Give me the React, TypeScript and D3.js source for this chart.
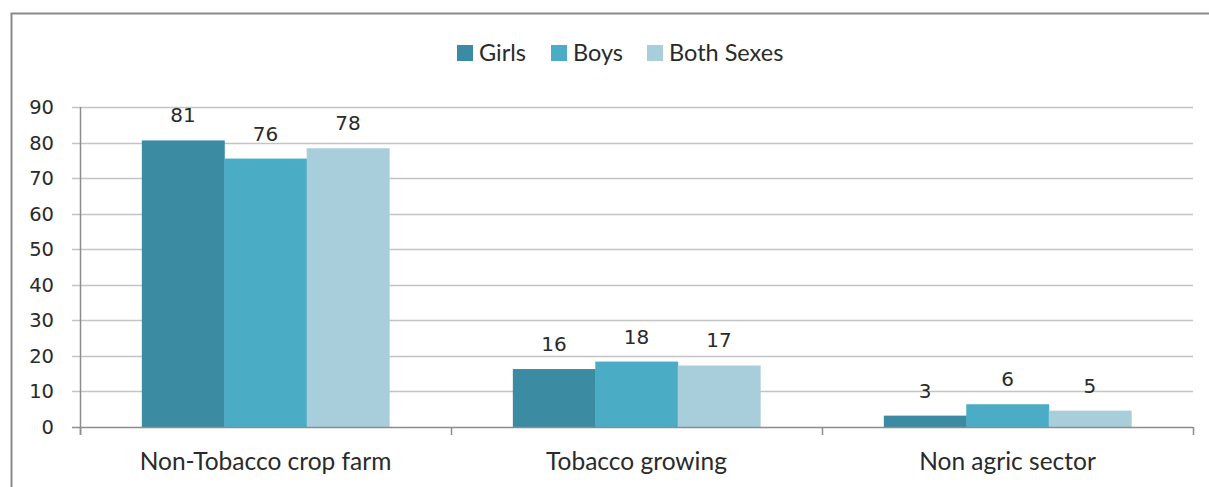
import React, { useEffect, useRef } from 'react';
import * as d3 from 'd3';

const categories = ["Non-Tobacco crop farm", "Tobacco growing", "Non agric sector"];
const seriesNames = ["Girls", "Boys", "Both Sexes"];
const girls = [80.6, 16.3, 3.2];
const boys = [75.5, 18.4, 6.4];
const both = [78.4, 17.3, 4.6];
const yTicks = [0, 10, 20, 30, 40, 50, 60, 70, 80, 90];
const colors = ["#3B8CA2", "#4BACC6", "#A8CEDC"];

const App = () => {
    const ref = useRef<SVGSVGElement>(null);

    useEffect(() => {
        const svg = d3.select(ref.current);
        svg.selectAll("*").remove();

        const left = 80, right = 1193, top = 107, bottom = 427;
        const numFont = "DejaVu Sans, sans-serif";
        const txtFont = "Lato, sans-serif";
        const ink = "#2a2a2a";

        // frame
        svg.append("path")
            .attr("d", "M11.5,500 L11.5,13.5 L1220,13.5")
            .attr("fill", "none")
            .attr("stroke", "#8a8a8a")
            .attr("stroke-width", 2);

        const x0 = d3.scaleBand().domain(categories).range([left, right]).paddingInner(0).paddingOuter(0);
        const x1 = d3.scaleBand().domain(seriesNames).range([0, x0.bandwidth()]).paddingOuter(0.75).paddingInner(0);
        const y = d3.scaleLinear().domain([0, 90]).range([bottom, top]);

        // gridlines
        svg.append("g")
            .selectAll("line")
            .data(yTicks.filter(d => d > 0))
            .enter()
            .append("line")
            .attr("x1", left - 8)
            .attr("x2", right)
            .attr("y1", d => Math.round(y(d)) + 0.5)
            .attr("y2", d => Math.round(y(d)) + 0.5)
            .attr("stroke", "#c4c4c4")
            .attr("stroke-width", 1.5);

        // y labels
        svg.append("g")
            .selectAll("text")
            .data(yTicks)
            .enter()
            .append("text")
            .attr("x", 54)
            .attr("y", d => y(d))
            .attr("dy", "0.36em")
            .attr("text-anchor", "end")
            .attr("font-family", numFont)
            .attr("font-size", 19.5)
            .attr("fill", ink)
            .text(d => d);

        const data = [girls, boys, both];

        const groups = svg.append("g")
            .selectAll("g")
            .data(categories)
            .enter()
            .append("g")
            .attr("transform", c => `translate(${x0(c)},0)`);

        groups.selectAll("rect")
            .data((c, i) => seriesNames.map((s, j) => ({ s, v: data[j][i], j })))
            .enter()
            .append("rect")
            .attr("x", d => x1(d.s)!)
            .attr("width", x1.bandwidth() + 0.5)
            .attr("y", d => y(d.v))
            .attr("height", d => bottom - y(d.v))
            .attr("fill", d => colors[d.j]);

        groups.selectAll("text")
            .data((c, i) => seriesNames.map((s, j) => ({ s, v: data[j][i], j })))
            .enter()
            .append("text")
            .attr("x", d => x1(d.s)! + x1.bandwidth() / 2)
            .attr("y", d => y(d.v) - 18)
            .attr("text-anchor", "middle")
            .attr("font-family", numFont)
            .attr("font-size", 20)
            .attr("fill", ink)
            .text(d => Math.round(d.v));

        // axes lines
        svg.append("line")
            .attr("x1", left + 0.5).attr("x2", left + 0.5)
            .attr("y1", top).attr("y2", bottom + 8)
            .attr("stroke", "#8c8c8c").attr("stroke-width", 1.5);
        svg.append("line")
            .attr("x1", left - 8).attr("x2", right)
            .attr("y1", bottom + 0.5).attr("y2", bottom + 0.5)
            .attr("stroke", "#8c8c8c").attr("stroke-width", 1.5);
        svg.append("g")
            .selectAll("line")
            .data(categories.map(c => x0(c)!).concat([right]))
            .enter()
            .append("line")
            .attr("x1", d => d + 0.5).attr("x2", d => d + 0.5)
            .attr("y1", bottom).attr("y2", bottom + 8)
            .attr("stroke", "#8c8c8c").attr("stroke-width", 1.5);

        // category labels
        svg.append("g")
            .selectAll("text")
            .data(categories)
            .enter()
            .append("text")
            .attr("x", c => x0(c)! + x0.bandwidth() / 2)
            .attr("y", 470)
            .attr("text-anchor", "middle")
            .attr("font-family", txtFont)
            .attr("font-size", 24.5)
            .attr("fill", ink)
            .text(c => c);

        // legend
        const legendX = [457, 551, 647];
        const legend = svg.append("g")
            .selectAll("g")
            .data(seriesNames)
            .enter()
            .append("g")
            .attr("transform", (d, i) => `translate(${legendX[i]},45)`);
        legend.append("rect")
            .attr("width", 16).attr("height", 16)
            .attr("fill", (d, i) => colors[i]);
        legend.append("text")
            .attr("x", 22)
            .attr("y", 16)
            .attr("font-family", txtFont)
            .attr("font-size", 23.5)
            .attr("fill", ink)
            .text(d => d);
    }, []);

    return (
        <svg ref={ref} width={1209} height={487}
            style={{ position: "absolute", left: 0, top: 0, background: "#fff" }} />
    );
};

export default App;
